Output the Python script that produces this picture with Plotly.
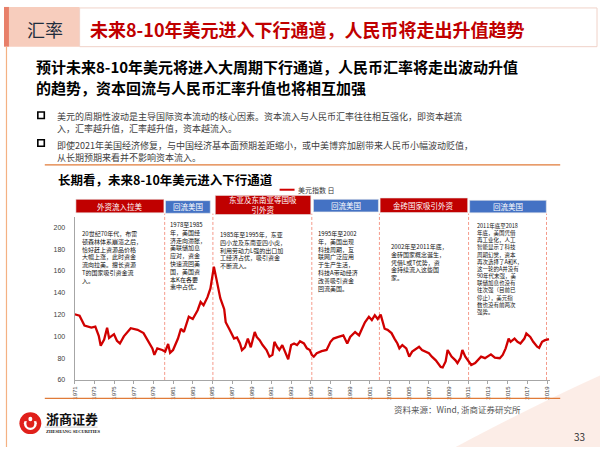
import plotly.graph_objects as go

W, H = 600, 450

# ---------------- data ----------------
years = [1971.0, 1971.5, 1972.0, 1972.7, 1973.1, 1973.45, 1973.65, 1974.0, 1974.3, 1974.5,
         1975.0, 1975.3, 1975.6, 1976.0, 1976.7, 1977.4, 1978.0, 1978.5, 1978.9, 1979.1,
         1979.4, 1979.9, 1980.2, 1980.5, 1980.7, 1981.0, 1981.5, 1981.8, 1982.1, 1982.6,
         1983.0, 1983.5, 1983.8, 1984.1, 1984.5, 1984.8, 1985.15, 1985.4, 1985.8, 1986.2,
         1986.35, 1986.7, 1987.2, 1987.5, 1987.8, 1988.0, 1988.3, 1988.6, 1988.9, 1989.3,
         1989.5, 1989.8, 1990.1, 1990.5, 1990.8, 1991.1, 1991.3, 1991.6, 1991.8, 1992.1,
         1992.7, 1993.0, 1993.3, 1993.6, 1993.9, 1994.3, 1994.6, 1994.9, 1995.1, 1995.3,
         1995.6, 1996.1, 1996.6, 1997.0, 1997.3, 1997.8, 1998.3, 1998.7, 1999.0, 1999.5,
         1999.9, 2000.2, 2000.5, 2000.9, 2001.2, 2001.5, 2001.8, 2002.1, 2002.5, 2002.8,
         2003.2, 2003.5, 2003.8, 2004.0, 2004.3, 2004.7, 2005.0, 2005.3, 2005.7, 2006.0,
         2006.3, 2006.7, 2007.0, 2007.3, 2007.7, 2008.2, 2008.4, 2008.7, 2008.9, 2009.1,
         2009.3, 2009.7, 2009.9, 2010.2, 2010.4, 2010.7, 2011.0, 2011.3, 2011.7, 2012.0,
         2012.3, 2012.7, 2013.0, 2013.3, 2013.7, 2014.2, 2014.5, 2014.8, 2015.1, 2015.3,
         2015.7, 2016.0, 2016.3, 2016.7, 2016.9, 2017.3, 2017.6, 2018.0, 2018.2, 2018.5,
         2018.8, 2019.2]
usd_index = [120.3, 119, 110, 108, 109, 100.5, 91.4, 97, 108, 98.5,
             102, 96, 93.5, 100, 107.5, 106, 103, 95, 89, 83,
             89, 87.5, 86, 93, 85, 87.5, 98, 107, 104, 118,
             116, 124, 131.5, 128.5, 136, 144, 164, 153, 135, 125,
             113, 107, 98, 99, 93.5, 87.4, 90, 98, 90, 104,
             99.5, 96.5, 92, 87.5, 81.4, 83, 95, 90, 87.5, 92,
             79, 92, 93.5, 92, 95.5, 93.5, 89, 87.5, 83, 81.4,
             84.5, 86.5, 87.5, 95, 98, 99.5, 101, 93.5, 99.5, 104,
             101, 107, 113, 118, 115, 119.4, 116, 120, 107, 106,
             103, 98, 93.5, 89, 92, 89, 81.4, 86, 89, 90.5,
             87.5, 86, 84.5, 81.4, 78, 72, 71.5, 77, 87.5, 84.5,
             81.4, 78, 75.5, 80, 87.5, 81.4, 78, 73.7, 75.5, 78,
             81.4, 80, 81.4, 83.5, 80.5, 80, 83, 89, 98, 95,
             98, 95, 93.5, 98, 102.6, 99.5, 95, 90.5, 89.5, 95,
             96.5, 97.5]

x_ticks = list(range(1971, 2020, 2))
x_tick_labels = [str(v) for v in x_ticks]
y_ticks = [60, 80, 100, 120, 140, 160, 180, 200]

period_start = [1971.13, 1980.23, 1985.29, 1995.27, 2002.04, 2011.14]
period_end = [1980.07, 1984.78, 1995.0, 2001.87, 2010.94, 2018.93]
period_names = ["外资流入拉美", "回流美国", "东亚及东南亚等国吸<br>引外资", "回流美国",
                "金砖国家吸引外资", "回流美国"]
period_kind = ["out", "us", "out", "us", "out", "us"]
dash_years = [1980.15, 1985.05, 1995.1, 2001.97, 2011.03, 2018.95]

period_texts = [
    ["20世纪70年代，布雷", "顿森林体系崩溃之后，", "恰好赶上资源品价格", "大幅上涨，此时资金",
     "流向拉美。擅长资源", "T的国家吸引资金流", "入。"],
    ["1978至1985", "年，美国经", "济走向滞胀，", "美联储加息", "应对，资金", "快速流回美",
     "国，美国资", "本K在各要", "素中占优。"],
    ["1985年至1995年，东亚", "四小龙及东南亚四小虎，", "利用劳动力L强的出口加", "工经济占优，吸引资金",
     "不断流入。"],
    ["1995年至2002", "年，美国出现", "科技周期，互", "联网广泛应用", "于生产生活，",
     "科技A带动经济", "改善吸引资金", "回流美国。"],
    ["2002年至2011年底，", "金砖国家概念诞生，", "凭借L或T优势，资", "金持续流入这些国", "家。"],
    ["2011年底至2018", "年底，美国凭借", "再工业化，人工", "智能显示了科技", "周期幻觉，资本",
     "再次选择了A和K，", "这一轮的A并没有", "90年代末强，美", "联储加息也没有", "往次强（目前已",
     "停止），美元指", "数也没有前两次", "强势。"],
]

title_tag = "汇率"
title_text = "未来8-10年美元进入下行通道，人民币将走出升值趋势"
subtitle_lines = ["预计未来8-10年美元将进入大周期下行通道，人民币汇率将走出波动升值",
                  "的趋势，资本回流与人民币汇率升值也将相互加强"]
bullet_lines = [["美元的周期性波动是主导国际资本流动的核心因素。资本流入与人民币汇率往往相互强化，即资本越流",
                 "入，汇率越升值，汇率越升值，资本越流入。"],
                ["即使2021年美国经济修复，与中国经济基本面预期差距缩小，或中美博弈加剧带来人民币小幅波动贬值，",
                 "从长期预期来看并不影响资本流入。"]]
chart_title = "长期看，未来8-10年美元进入下行通道"
legend_label = "美元指数 日"
source_text = "资料来源：Wind, 浙商证券研究所"
page_no = "33"

FONT = "Noto Sans CJK SC"


def X(px):
    return px / W


def Y(py):
    return 1 - py / H


fig = go.Figure()
fig.add_trace(go.Scatter(x=years, y=usd_index, mode="lines",
                         line=dict(color="#D00000", width=2.3), hoverinfo="skip",
                         showlegend=False))

shapes = []
ann = []


def rect(x0, y0, x1, y1, fill, line=None, lw=0, layer="below"):
    shapes.append(dict(type="rect", xref="paper", yref="paper", x0=X(x0), x1=X(x1),
                       y0=Y(y1), y1=Y(y0), fillcolor=fill, layer=layer,
                       line=dict(color=line or fill, width=lw)))


def text(px, py, s, size, color="#000", xanchor="left", bold=False, font=FONT, yanchor="middle"):
    if bold:
        s = "<b>" + s + "</b>"
    ann.append(dict(xref="paper", yref="paper", x=X(px), y=Y(py), text=s, showarrow=False,
                    xanchor=xanchor, yanchor=yanchor, align="left", borderpad=0,
                    font=dict(family=font, size=size, color=color)))


# ---- slide decoration ----
shapes.append(dict(type="path", xref="paper", yref="paper",
                   path=f"M {X(455)} {Y(450)} Q {X(540)} {Y(405)} {X(600)} {Y(378)} L {X(600)} {Y(450)} Z",
                   fillcolor="rgba(246,190,170,0.28)", line=dict(width=0), layer="below"))
shapes.append(dict(type="line", xref="paper", yref="paper", x0=X(3.5), x1=X(3.5), y0=Y(47), y1=Y(450),
                   line=dict(color="#F4B183", width=1.2)))
rect(1, 7, 6, 47, "#E8806A")
rect(6, 7, 77, 47, "#F7CDBD")
rect(77, 8, 597, 47, "#FFFFFF", line="#F0D2C8", lw=1)
text(42, 29, title_tag, 18, "#1F2D3D", xanchor="center")
text(86, 29, title_text, 18, "#C00000", bold=True)

text(32, 67, subtitle_lines[0], 15, "#000", bold=True)
text(32, 88, subtitle_lines[1], 15, "#000", bold=True)

for i, yy in enumerate([116, 144]):
    rect(35, yy - 3.3, 41.5, yy + 3.3, "rgba(0,0,0,0)", line="#000", lw=1.6, layer="above")
for lines, top in zip(bullet_lines, [109.5, 139]):
    text(53, top, "<br>".join(lines), 9, "#404040", yanchor="top")

shapes.append(dict(type="line", xref="paper", yref="paper", x0=X(42), x1=X(560), y0=Y(166), y1=Y(166),
                   line=dict(color="#E07B39", width=1.3)))
shapes.append(dict(type="line", xref="paper", yref="paper", x0=X(42), x1=X(560), y0=Y(401), y1=Y(401),
                   line=dict(color="#E07B39", width=1.3)))

text(54, 181, chart_title, 12.5, "#000", bold=True)
shapes.append(dict(type="line", xref="paper", yref="paper", x0=X(278), x1=X(293), y0=Y(191), y1=Y(191),
                   line=dict(color="#D00000", width=2)))
text(295, 191, legend_label, 7, "#333")

# ---- period headers, dashed separators, notes ----
head_top = [200.7, 202, 196.7, 200.7, 199.3, 201.7]
head_bot = [214.3, 214.7, 216, 213.3, 214, 214.3]
for i in range(6):
    col = "#C00000" if period_kind[i] == "out" else "#4472C4"
    shapes.append(dict(type="rect", xref="x", yref="paper", x0=period_start[i], x1=period_end[i],
                       y0=Y(head_bot[i]), y1=Y(head_top[i]), fillcolor=col,
                       line=dict(color="#E8E8E8", width=0.6), layer="above"))
    ann.append(dict(xref="x", yref="paper", x=(period_start[i] + period_end[i]) / 2,
                    y=Y((head_top[i] + head_bot[i]) / 2), text=period_names[i], showarrow=False,
                    xanchor="center", yanchor="middle", borderpad=0,
                    font=dict(family=FONT, size=7.5, color="#FFFFFF")))
for dy in dash_years:
    shapes.append(dict(type="line", xref="x", yref="paper", x0=dy, x1=dy, y0=Y(382.5), y1=Y(215),
                       line=dict(color="#F59A8A", width=1, dash="3px,2px"), layer="below"))

note_x = [78, 167, 217, 316, 389, 475]
note_top = [230, 220, 231, 230, 243, 222]
note_size = [6, 6, 6, 6, 6, 5.5]
for i in range(6):
    text(note_x[i], note_top[i], "<br>".join(period_texts[i]), note_size[i], "#111", yanchor="top")

# ---- footer ----
text(392, 412, source_text, 8.5, "#555")
text(579, 439, page_no, 10, "#333", xanchor="center")
shapes.append(dict(type="circle", xref="paper", yref="paper", x0=X(16.5), x1=X(38.5), y0=Y(437), y1=Y(415),
                   fillcolor="#E0201B", line=dict(width=0)))
shapes.append(dict(type="circle", xref="paper", yref="paper", x0=X(21), x1=X(34), y0=Y(433), y1=Y(419),
                   fillcolor="#FFFFFF", line=dict(width=0)))
shapes.append(dict(type="circle", xref="paper", yref="paper", x0=X(23.5), x1=X(31.5), y0=Y(430.5), y1=Y(422),
                   fillcolor="#E0201B", line=dict(width=0)))
rect(21, 417, 34, 424, "#E0201B", layer="above")
shapes.append(dict(type="circle", xref="paper", yref="paper", x0=X(25.5), x1=X(29.5), y0=Y(424), y1=Y(419.5),
                   fillcolor="#FFFFFF", line=dict(width=0), layer="above"))
text(42, 421, "浙商证券", 13, "#111", bold=True)
shapes.append(dict(type="line", xref="paper", yref="paper", x0=X(42), x1=X(95), y0=Y(430), y1=Y(430),
                   line=dict(color="#999", width=0.5)))
text(42, 434.5, "ZHESHANG SECURITIES", 4.5, "#111", bold=True, font="Liberation Serif")

fig.update_layout(
    width=W, height=H, margin=dict(l=0, r=0, t=0, b=0),
    paper_bgcolor="#FFFFFF", plot_bgcolor="#FFFFFF",
    shapes=shapes, annotations=ann, showlegend=False,
    xaxis=dict(domain=[X(72), X(550)], range=[1971, 2019.33], tickmode="array",
               tickvals=x_ticks, ticktext=x_tick_labels, tickangle=-90,
               tickfont=dict(family="Liberation Sans", size=6, color="#404040"),
               showgrid=False, zeroline=False, showline=True, linecolor="#A6A6A6", linewidth=1,
               ticks="outside", ticklen=3, tickcolor="#A6A6A6"),
    yaxis=dict(domain=[Y(382.5), Y(218)], range=[60, 210], tickmode="array", tickvals=y_ticks,
               tickfont=dict(family="Liberation Sans", size=7, color="#404040"),
               showgrid=False, zeroline=False, showline=True, linecolor="#A6A6A6", linewidth=1,
               ticks="outside", ticklen=3, tickcolor="#FFFFFF", ticklabelstandoff=4),
)

fig.write_html("out.html", config={"displayModeBar": False},
               post_script="document.body.style.margin='0';document.body.style.overflow='hidden';")
